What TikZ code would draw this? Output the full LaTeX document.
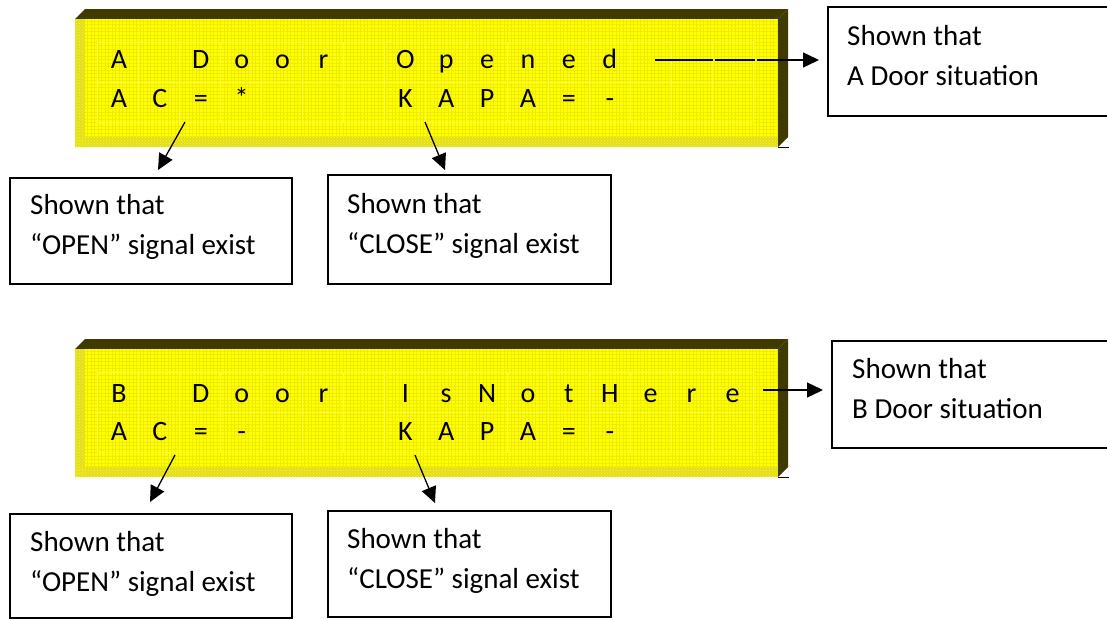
\documentclass[tikz,border=0pt]{standalone}
\usepackage{fontspec}
\setmainfont{Carlito}
\usetikzlibrary{arrows.meta,patterns}

\definecolor{bevel}{RGB}{64,58,0}
\definecolor{lcdface}{RGB}{255,255,0}
\definecolor{lcdtex}{RGB}{240,236,0}
\definecolor{lcdedge}{RGB}{226,220,40}
\definecolor{cellline}{RGB}{255,255,55}

% one 16x2 LCD panel with its bevel, drawn in pixel-like units
\newcommand{\lcdpanel}{%
  \fill[bevel] (75,19)--(85,9)--(788,9)--(778,19)--cycle;
  \fill[bevel] (778,19)--(788,9)--(788,137)--(778,147)--cycle;
  \fill[lcdface] (75,19) rectangle (778,147);
  \foreach \gx in {77,80.5,...,777} \draw[lcdtex,line width=0.4pt] (\gx,19)--(\gx,147);
  \foreach \gy in {21,24.5,...,146} \draw[lcdtex,line width=0.4pt] (75,\gy)--(778,\gy);
  \fill[lcdedge] (75,19) rectangle (85,147);
  \fill[lcdedge] (75,137) rectangle (778,147);
  \fill[pattern=crosshatch dots,pattern color=lcdface] (75,19) rectangle (85,147);
  \fill[pattern=crosshatch dots,pattern color=lcdface] (75,137) rectangle (778,147);
  \foreach \cx in {0,...,16} \draw[cellline,line width=1pt] ({97+41*\cx},42)--({97+41*\cx},122);
  \foreach \cy in {42,82,122} \draw[cellline,line width=1pt] (97,\cy)--(753,\cy);
  \draw[black,line width=0.6pt] (778,147)--(789,147);
}

\tikzset{
  lcdch/.style={anchor=base,inner sep=0pt,font=\fontsize{28}{32}\selectfont},
  notebox/.style={draw,line width=1.5pt,anchor=north west,inner sep=0pt},
  notetext/.style={anchor=base west,inner sep=0pt,font=\fontsize{29}{40}\selectfont},
  pointer/.style={line width=1.3pt,-{Triangle[length=16pt,width=15pt]}}
}

\newcommand{\twolines}[2]{\vtop{\baselineskip=40pt\hbox{#1}\hbox{#2}}}

\begin{document}
\begin{tikzpicture}[x=1pt,y=-1pt]
\fill[white] (0,0) rectangle (1107,619);
\useasboundingbox (0,0) rectangle (1107,619);

% ---------- panel A ----------
\lcdpanel
\foreach \i/\c in {0/A,2/D,3/o,4/o,5/r,7/O,8/p,9/e,10/n,11/e,12/d}
  \node[lcdch] (aR\i) at ({119+40.9*\i},68) {\c};
\foreach \i/\c in {0/A,1/C,2/=,3/*,7/K,8/A,9/P,10/A,11/=,12/-}
  \node[lcdch] (aS\i) at ({119+40.9*\i},107) {\c};

% ---------- panel B ----------
\begin{scope}[yshift=-330pt]
\lcdpanel
\end{scope}
\foreach \i/\c in {0/B,2/D,3/o,4/o,5/r,7/I,8/s,9/N,10/o,11/t,12/H,13/e,14/r,15/e}
  \node[lcdch] (bR\i) at ({119+40.9*\i},402) {\c};
\foreach \i/\c in {0/A,1/C,2/=,3/-,7/K,8/A,9/P,10/A,11/=,12/-}
  \node[lcdch] (bS\i) at ({119+40.9*\i},440) {\c};

% ---------- note boxes ----------
\begin{scope}
\clip (0,0) rectangle (1107,619);
\node[notebox,minimum width=300pt,minimum height=109pt] (aDoorBox) at (827,6) {};
\end{scope}
\node[notetext] (aDoorTxt) at (847,45) {\twolines{Shown that}{A Door situation}};

\node[notebox,minimum width=282pt,minimum height=106pt] (aOpenBox) at (9,177) {};
\node[notetext] (aOpenTxt) at (30,214) {\twolines{Shown that}{“OPEN” signal exist}};

\node[notebox,minimum width=283pt,minimum height=109pt] (aCloseBox) at (327,174) {};
\node[notetext] (aCloseTxt) at (347,213) {\twolines{Shown that}{“CLOSE” signal exist}};

\node[notebox,minimum width=290pt,minimum height=107pt] (bDoorBox) at (831,340) {};
\node[notetext] (bDoorTxt) at (852,378) {\twolines{Shown that}{B Door situation}};

\node[notebox,minimum width=282pt,minimum height=104pt] (bOpenBox) at (9,513) {};
\node[notetext] (bOpenTxt) at (30,551) {\twolines{Shown that}{“OPEN” signal exist}};

\node[notebox,minimum width=283pt,minimum height=106pt] (bCloseBox) at (327,510) {};
\node[notetext] (bCloseTxt) at (347,548) {\twolines{Shown that}{“CLOSE” signal exist}};

% ---------- connectors ----------
\coordinate (aDoorTail) at (655,60);
\coordinate (aDoorTip) at (819,60);
\coordinate (aOpenTail) at (185,122);
\coordinate (aOpenTip) at (158,170);
\coordinate (aCloseTail) at (425,122);
\coordinate (aCloseTip) at (445,170);
\coordinate (bDoorTail) at (763,390);
\coordinate (bDoorTip) at (823,390);
\coordinate (bOpenTail) at (175,455);
\coordinate (bOpenTip) at (150,502);
\coordinate (bCloseTail) at (415,455);
\coordinate (bCloseTip) at (435,503);

\draw[pointer,dash pattern=on 58pt off 2pt on 40pt off 2pt on 200pt off 0pt] (aDoorTail) -- (aDoorTip);
\draw[pointer] (aOpenTail) -- (aOpenTip);
\draw[pointer] (aCloseTail) -- (aCloseTip);
\draw[pointer] (bDoorTail) -- (bDoorTip);
\draw[pointer] (bOpenTail) -- (bOpenTip);
\draw[pointer] (bCloseTail) -- (bCloseTip);
\end{tikzpicture}
\end{document}
